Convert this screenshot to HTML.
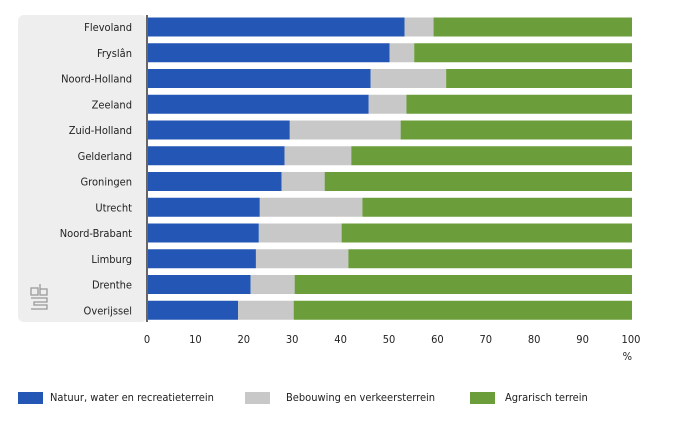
<!DOCTYPE html>
<html><head><meta charset="utf-8"><style>
body{margin:0;width:682px;height:423px;background:#fff;font-family:"Liberation Sans","DejaVu Sans",sans-serif;overflow:hidden}
svg text{font-family:"DejaVu Sans Condensed","Liberation Sans",sans-serif;font-size:11px;fill:#222}
</style></head><body>
<svg id="chart" width="682" height="423">
<rect x="18" y="15" width="129" height="307" rx="6" fill="#eeeeee"/>
<g fill="none" stroke="#999" stroke-width="1.3">
<path d="M31 288 h7 v7 h-7 z M40 284 v11 h7 v-6 h-7 M31 298 h16 v4 h-13 v3 h13 v4 h-16"/>
</g>
<g id="bars"></g>
<line x1="147" y1="15" x2="147" y2="322" stroke="#666" stroke-width="2"/>
<g id="xticks"></g>
<text x="632" y="360" text-anchor="end">%</text>
<g>
<rect x="18" y="392" width="25" height="12" fill="#2457b5"/>
<text x="50" y="401">Natuur, water en recreatieterrein</text>
<rect x="245" y="392" width="25" height="12" fill="#c8c8c8"/>
<text x="286" y="401">Bebouwing en verkeersterrein</text>
<rect x="470" y="392" width="25" height="12" fill="#6b9e3a"/>
<text x="505" y="401">Agrarisch terrein</text>
</g>
</svg>
<script>
const categories=["Flevoland","Fryslân","Noord-Holland","Zeeland","Zuid-Holland","Gelderland","Groningen","Utrecht","Noord-Brabant","Limburg","Drenthe","Overijssel"];
const natuur=[53.0,49.9,46.0,45.6,29.3,28.2,27.6,23.1,22.9,22.3,21.2,18.6];
const bebouwing=[6.0,5.1,15.6,7.8,22.9,13.8,8.9,21.2,17.1,19.1,9.1,11.5];
const agrarisch=[41.0,45.0,38.4,46.6,47.8,58.0,63.5,55.7,60.0,58.6,69.7,69.9];
const xTicks=[0,10,20,30,40,50,60,70,80,90,100];
const colors=["#2457b5","#c8c8c8","#6b9e3a"];
const X=v=>148+v*4.84;
const Y=i=>27+i*25.75;
const NS="http://www.w3.org/2000/svg";
const bars=document.getElementById('bars');
categories.forEach((c,i)=>{
  const series=[natuur[i],bebouwing[i],agrarisch[i]];
  const names=['natuur','bebouwing','agrarisch'];
  let acc=0;
  series.forEach((v,s)=>{
    const r=document.createElementNS(NS,'rect');
    r.setAttribute('x',X(acc));r.setAttribute('width',X(acc+v)-X(acc));
    r.setAttribute('y',Y(i)-9.5);r.setAttribute('height',19);r.setAttribute('fill',colors[s]);
    
    
    bars.appendChild(r);acc+=v;
  });
  const t=document.createElementNS(NS,'text');
  t.setAttribute('x',132);t.setAttribute('y',Y(i)+4);t.setAttribute('text-anchor','end');
  t.textContent=c;
  
  
  bars.appendChild(t);
});
const xt=document.getElementById('xticks');
xTicks.forEach(v=>{
  const t=document.createElementNS(NS,'text');
  t.setAttribute('x',X(v)-1);t.setAttribute('y',343);t.setAttribute('text-anchor','middle');
  t.textContent=v;
  
  
  xt.appendChild(t);
});
</script>
</body></html>
